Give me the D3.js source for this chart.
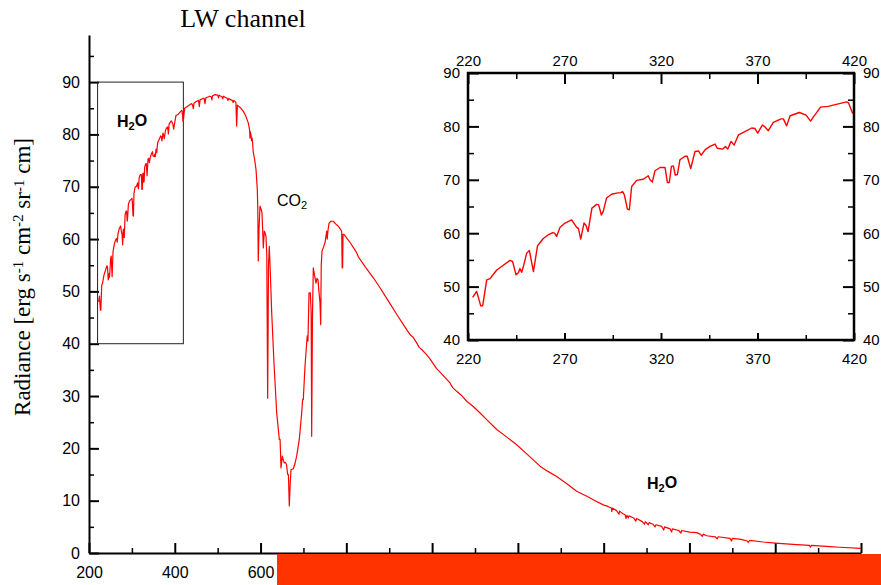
<!DOCTYPE html>
<html>
<head>
<meta charset="utf-8">
<script src="https://cdn.jsdelivr.net/npm/d3@7"></script>
<style>
  body { margin: 0; background: #fff; }
  svg { display: block; }
</style>
</head>
<body>
<svg id="chart" width="881" height="585"></svg>
<script>
// spectrum pieces, [wavenumber, radiance]
const h2oRotBand = [[222.4,48.0],[224.5,49.1],[226.6,46.4],[227.6,46.4],[229.7,51.25],[231.4,51.5],[234.9,53.1],[241.8,54.9],[243.1,54.7],[244.9,52.2],[246.1,52.6],[246.9,53.4],[247.8,52.7],[248.7,53.75],[250.4,56.25],[251.8,56.75],[253.9,52.8],[256.0,57.6],[259.0,59.0],[261.6,59.7],[263.9,60.1],[264.9,60.0],[265.9,59.4],[267.7,61.1],[270.3,61.9],[273.7,62.5],[276.3,61.1],[277.2,60.9],[278.4,58.9],[280.1,61.9],[281.1,61.5],[282.2,60.3],[284.2,64.7],[286.7,65.4],[287.7,65.3],[289.1,63.4],[290.1,64.1],[291.8,66.6],[294.4,67.3],[297.0,67.5],[299.1,67.6],[300.1,67.8],[301.0,67.2],[302.6,64.5],[303.6,64.4],[304.8,68.75],[307.4,69.9],[310.8,70.1],[313.4,70.75],[314.3,70.0],[315.5,69.6],[316.9,71.7],[319.5,72.3],[322.1,72.3],[323.3,69.5],[324.3,69.5],[325.4,72.5],[326.4,72.6],[327.4,70.9],[328.5,71.0],[329.8,73.75],[332.4,74.4],[333.6,74.4],[335.4,72.1],[337.6,75.3],[339.4,75.4],[340.8,74.6],[342.8,75.6],[345.4,76.25],[348.0,76.7],[349.2,75.9],[352.0,75.75],[353.4,76.25],[354.6,75.75],[356.3,77.2],[357.9,76.5],[360.1,78.4],[362.7,78.9],[367.0,79.7],[368.7,79.6],[370.1,78.75],[372.5,80.25],[373.9,79.9],[375.6,79.2],[378.2,80.75],[382.2,81.4],[383.4,81.4],[385.1,80.1],[386.9,82.0],[391.7,82.6],[395.2,82.1],[397.5,81.0],[398.9,81.75],[402.7,83.6],[406.6,83.75],[416.1,84.6],[417.2,84.4],[419.2,82.5],[420.0,82.6]]

const peakRegion = [[423,85.0],[431.6,85.5],[439.4,85.9],[441.5,85.6],[443.3,84.9],[445,86.0],[451,86.35],[455.5,86.5],[457.2,85.3],[459,86.6],[466.6,86.9],[468.5,86.9],[470.5,85.9],[472.5,87.0],[482.1,87.3],[485,87.2],[486.5,86.6],[488,87.4],[493.8,87.6],[500,87.5],[502,87.0],[503.5,87.5],[505.4,87.4],[510,87.2],[512,86.8],[513.5,87.3],[517.1,87.1],[522,86.9],[524,86.5],[525.5,86.9],[528.7,86.7],[534,86.5],[536,86.1],[537.5,86.5],[540.4,86.3],[542.5,86.1],[544.3,81.6],[546,85.6],[547.4,85.5],[553,85.1],[559.8,84.4],[565,83.6],[571.4,82.2],[574.5,80.8],[575.3,79.3],[576.3,80.5],[578,79.8],[579,78.8],[580.5,79.3],[583.1,76.5],[586,75.3],[589.4,73.3]]

const co2Band = [[592.4,69.5],[593.5,66],[594.7,55.8],[596.5,62],[598.7,66.3],[601,65.8],[603.4,65],[606.4,58.3],[608.7,61.5],[610.5,61.2],[612.7,60.5],[614.5,57],[616.6,29.6],[618.5,55],[620.4,58.6],[623,53],[626,45.9],[631.3,36.3],[637.6,26.8],[641,24],[643.7,21.7],[645.5,21.7],[647.7,16.25],[650.7,18.5],[653,17.8],[655.4,17.2],[658,17.3],[660.5,16.9],[663.2,15],[665,15],[667,9.0],[669,13],[671,15.9],[676.3,16.1],[680,17],[684.2,18.5],[690.3,21.7],[695.9,26.8],[698,29.3],[699.6,29.3],[703.6,35.7],[707.6,40.2],[709,41.5],[710.5,40.5],[713,49.7],[716,49.7],[718,46],[719.2,22.3],[721,45],[723,54.5],[726,53],[729.3,51.6],[731.5,52.5],[734,52.2],[736,50],[738.5,48],[740.2,43.65],[741.5,55],[743.3,57.7],[747,58.5],[750.3,59.3],[754.2,61.5],[755.5,60],[757,61.5],[759.6,63],[764,63.4],[769.6,63.4],[775,62.9],[781.3,62.45],[786,61.9],[789.2,61.5],[790.3,54.5],[791.3,54.5],[792.3,60.9],[794.5,60.9]]

const windowTail = [[810,59.2],[824,57.4],[826,57.0],[828,56.6],[845,54.6],[862.9,52.6],[878.5,50.7],[900,47.9],[920,45.3],[940.7,42.7],[950,41.6],[955,41.3],[964,40.15],[970,39.3],[975.7,38.9],[985,38.1],[995,37.1],[1010,35.3],[1025,34.0],[1041.7,32.5],[1048,31.6],[1057.3,30.9],[1070,30.0],[1080.6,29.0],[1096,28.0],[1110,26.9],[1127.3,25.5],[1150.6,23.6],[1175,22.1],[1197.2,20.7],[1220,19.0],[1251.5,16.6],[1270,15.6],[1290.5,14.6],[1315,13.2],[1337,11.8],[1364.2,10.7],[1380,10.0],[1399,9.2],[1410,8.9],[1418,8.6],[1419,7.9],[1420,8.6],[1430,8.1],[1435.7,7.4],[1437,8.0],[1445,7.5],[1450,7.3],[1452,6.6],[1454,7.2],[1457.5,6.7],[1459,7.1],[1470,6.7],[1475,6.1],[1477,6.6],[1490,6.0],[1495,5.5],[1497,6.0],[1504,5.4],[1506,5.8],[1515,5.5],[1520,5.0],[1522,5.4],[1535,5.1],[1540,4.4],[1542,5.0],[1555,4.6],[1558.6,4.0],[1560,4.6],[1575,4.3],[1580,3.8],[1582,4.3],[1600,4.0],[1617,3.9],[1625,3.6],[1630,3.2],[1632,3.6],[1640,3.3],[1660,3.1],[1665,2.7],[1667,3.1],[1694.5,2.8],[1698,2.3],[1700,2.8],[1720,2.6],[1735,2.3],[1737,2.0],[1740,2.4],[1772,2.1],[1800,1.9],[1850,1.6],[1880,1.45],[1882,1.1],[1884,1.45],[1927.7,1.2],[1950,1.1],[2000,0.9]]

const xTicks = [200,400,600,800,1000,1200,1400,1600,1800,2000]
const xMinor = [300,500,700,900,1100,1300,1500,1700,1900]
const yTicks = [0,10,20,30,40,50,60,70,80,90]
const yMinor = [5,15,25,35,45,55,65,75,85,95]
const insetXTicks = [220,270,320,370,420]
const insetXMinor = [245,295,345,395]
const insetYTicks = [40,50,60,70,80,90]
const insetYMinor = [45,55,65,75,85]

const spectrum = h2oRotBand.concat(peakRegion, co2Band, windowTail)

const SANS = "'Liberation Sans', Arial, Helvetica, sans-serif"
const SERIF = "'Liberation Serif', 'Times New Roman', serif"
const fmt = d3.format('d')

const svg = d3.select('#chart')

// main scales
const x = d3.scaleLinear().domain([200, 2000]).range([89, 861])
const y = d3.scaleLinear().domain([0, 99]).range([553, 35])

const styleAxis = (g, size, w) => {
	g.attr('font-family', SANS).attr('font-size', size)
	g.selectAll('.tick line').attr('stroke', '#000').attr('stroke-width', w)
	g.selectAll('.tick text').attr('fill', '#000')
}

// y axis
const gy = svg.append('g').attr('transform', 'translate(89,0)')
	.call(d3.axisLeft(y).tickValues(yTicks).tickFormat(fmt).tickSize(-10).tickPadding(9).tickSizeOuter(0))
styleAxis(gy, 16, 2)
gy.select('.domain').attr('stroke', '#000').attr('stroke-width', 2)
svg.append('g').attr('transform', 'translate(89,0)')
	.call(d3.axisLeft(y).tickValues(yMinor).tickSize(-5).tickFormat(''))
	.call(g => g.select('.domain').remove())
	.call(g => g.selectAll('line').attr('stroke', '#000').attr('stroke-width', 1.5))

// x axis
const gx = svg.append('g').attr('transform', 'translate(0,553)')
	.call(d3.axisBottom(x).tickValues(xTicks).tickFormat(fmt).tickSize(-10).tickPadding(14).tickSizeOuter(0))
styleAxis(gx, 16, 2)
gx.select('.domain').attr('stroke', '#000').attr('stroke-width', 2)
svg.append('g').attr('transform', 'translate(0,553)')
	.call(d3.axisBottom(x).tickValues(xMinor).tickSize(-5).tickFormat(''))
	.call(g => g.select('.domain').remove())
	.call(g => g.selectAll('line').attr('stroke', '#000').attr('stroke-width', 1.5))

// box marking the zoomed region
svg.append('rect')
	.attr('x', x(220)).attr('y', y(90))
	.attr('width', x(420) - x(220)).attr('height', y(40) - y(90))
	.attr('fill', 'none').attr('stroke', '#222').attr('stroke-width', 1)

const line = d3.line().x(d => x(d[0])).y(d => y(d[1]))
svg.append('path')
	.datum(spectrum)
	.attr('d', line)
	.attr('fill', 'none')
	.attr('stroke', '#ff0000')
	.attr('stroke-width', 1.2)
	.attr('stroke-linejoin', 'round')

// title + y label
svg.append('text')
	.attr('x', 243).attr('y', 27)
	.attr('text-anchor', 'middle')
	.attr('font-family', SERIF).attr('font-size', 26)
	.text('LW channel')

const yl = svg.append('text')
	.attr('transform', 'translate(30,277) rotate(-90)')
	.attr('text-anchor', 'middle')
	.attr('font-family', SERIF).attr('font-size', 23)
const sup = (t) => yl.append('tspan').attr('font-size', 15).attr('dy', '-0.45em').text(t)
const base = (t) => yl.append('tspan').attr('dy', '0.3em').text(t)
yl.append('tspan').text('Radiance [erg s')
sup('-1'); base('  cm'); sup('-2'); base('  sr'); sup('-1'); base('  cm]')

// species labels
const molecule = (px, py, head, tail, bold) => {
	const t = svg.append('text').attr('x', px).attr('y', py)
		.attr('font-family', SANS).attr('font-size', 16)
		.attr('font-weight', bold ? 'bold' : 'normal')
	t.append('tspan').text(head)
	t.append('tspan').attr('font-size', 11).attr('dy', '0.3em').text('2')
	if (tail) t.append('tspan').attr('dy', '-0.3em').text(tail)
}
molecule(117, 127, 'H', 'O', true)
molecule(277, 206, 'CO', '', false)
molecule(647, 489, 'H', 'O', true)

// inset
const xi = d3.scaleLinear().domain([220, 420]).range([468, 854])
const yi = d3.scaleLinear().domain([40, 90]).range([340, 73])

const inset = svg.append('g')
inset.append('rect').attr('x', 468).attr('y', 73).attr('width', 386).attr('height', 267).attr('fill', '#fff')

const insetAxis = (axisFn, scale, tr, vals, size, pad) => {
	const g = inset.append('g').attr('transform', tr)
		.call(axisFn(scale).tickValues(vals).tickFormat(fmt).tickSize(-size).tickPadding(pad).tickSizeOuter(0))
	g.select('.domain').remove()
	styleAxis(g, 15, 2)
	return g
}
const insetMinor = (axisFn, scale, tr, vals, size) => {
	inset.append('g').attr('transform', tr)
		.call(axisFn(scale).tickValues(vals).tickSize(-size).tickFormat(''))
		.call(g => g.select('.domain').remove())
		.call(g => g.selectAll('line').attr('stroke', '#000').attr('stroke-width', 1.5))
}
insetAxis(d3.axisTop, xi, 'translate(0,73)', insetXTicks, 11, 7)
insetAxis(d3.axisBottom, xi, 'translate(0,340)', insetXTicks, 7, 13)
insetAxis(d3.axisLeft, yi, 'translate(468,0)', insetYTicks, 11, 8)
insetAxis(d3.axisRight, yi, 'translate(854,0)', insetYTicks, 11, 9)
insetMinor(d3.axisTop, xi, 'translate(0,73)', insetXMinor, 6)
insetMinor(d3.axisBottom, xi, 'translate(0,340)', insetXMinor, 5)
insetMinor(d3.axisLeft, yi, 'translate(468,0)', insetYMinor, 6)
insetMinor(d3.axisRight, yi, 'translate(854,0)', insetYMinor, 6)

const insetLine = d3.line().x(d => xi(d[0])).y(d => yi(d[1]))
inset.append('path')
	.datum(h2oRotBand)
	.attr('d', insetLine)
	.attr('fill', 'none')
	.attr('stroke', '#ff0000')
	.attr('stroke-width', 1.4)
	.attr('stroke-linejoin', 'round')

inset.append('rect').attr('x', 468).attr('y', 73).attr('width', 386).attr('height', 267)
	.attr('fill', 'none').attr('stroke', '#000').attr('stroke-width', 2.5)

// caption banner across the bottom
svg.append('rect')
	.attr('x', 277).attr('y', 554).attr('width', 604).attr('height', 31)
	.attr('fill', '#ff3300')
</script>
</body>
</html>
